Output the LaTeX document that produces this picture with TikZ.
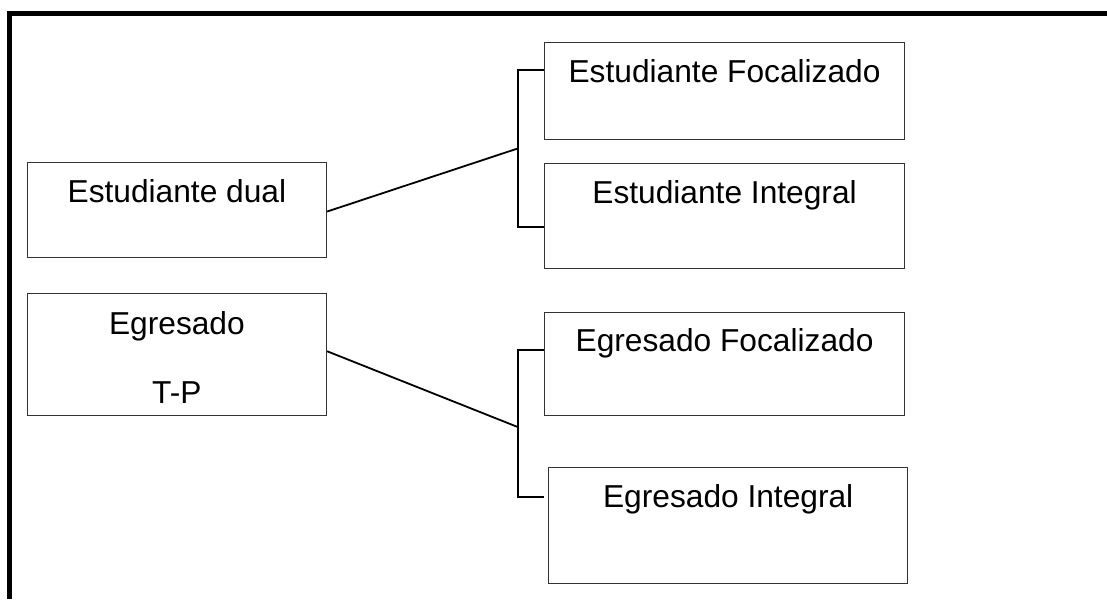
\documentclass[tikz,border=0pt]{standalone}
\usepackage{fontspec}
\setmainfont{Liberation Sans}
\usetikzlibrary{positioning}
\usetikzlibrary{calc}

\begin{document}
\begin{tikzpicture}[x=1pt,y=-1pt,
	caja/.style={draw=black!80,line width=1.1pt,rectangle,inner sep=0pt,anchor=north west,font=\fontsize{31.7}{38}\selectfont},
	rama/.style={line width=1.8pt}]
		\useasboundingbox (0,0) rectangle (1107,599);
		\draw[line width=4.5pt] (1107,13.3) -- (9.3,13.3) -- (9.3,599);
		% estudiantes
		\node[caja,minimum width=299.3pt,minimum height=95pt,text height=40pt,text depth=55pt] at (26.7,161.7) (ed) {Estudiante dual};
		\node[caja,minimum width=360pt,minimum height=97.3pt,text height=40pt,text depth=57.3pt] at (544,41.7) (ef) {Estudiante Focalizado};
		\node[caja,below=22.4pt of ef.south west,anchor=north west,minimum width=360pt,minimum height=105.3pt,text height=40pt,text depth=65.3pt] (ei) {Estudiante Integral};
		% egresados
		\node[caja,align=center,minimum width=299.3pt,minimum height=122pt,text height=110pt,text depth=12pt] at (26.7,293) (gtp) {Egresado\\[31pt]T-P};
		\node[caja,minimum width=360pt,minimum height=103.3pt,text height=39.3pt,text depth=64pt] at (544,311.7) (gf) {Egresado Focalizado};
		\node[caja,minimum width=358.7pt,minimum height=116.3pt,text height=40.3pt,text depth=76pt] at (548.3,466.7) (gi) {Egresado Integral};
		% llaves
		\coordinate (b1) at (517.7,148.5);
		\coordinate (b1t) at (517.7,70);
		\coordinate (b1b) at (517.7,227);
		\coordinate (b2) at (517.7,427);
		\coordinate (b2t) at (517.7,350.3);
		\coordinate (b2b) at (517.7,496.7);
		\draw[rama] ($(ed.east)+(0,1.8)$) -- (b1);
		\draw[rama] (ef.west |- b1t) -- (b1t) -- (b1b) -- (ei.west |- b1b);
		\draw[rama] ($(gtp.east)+(0,-3.3)$) -- (b2);
		\draw[rama] (gf.west |- b2t) -- (b2t) -- (b2b) -- (gf.west |- b2b);
	\end{tikzpicture}
\end{document}
